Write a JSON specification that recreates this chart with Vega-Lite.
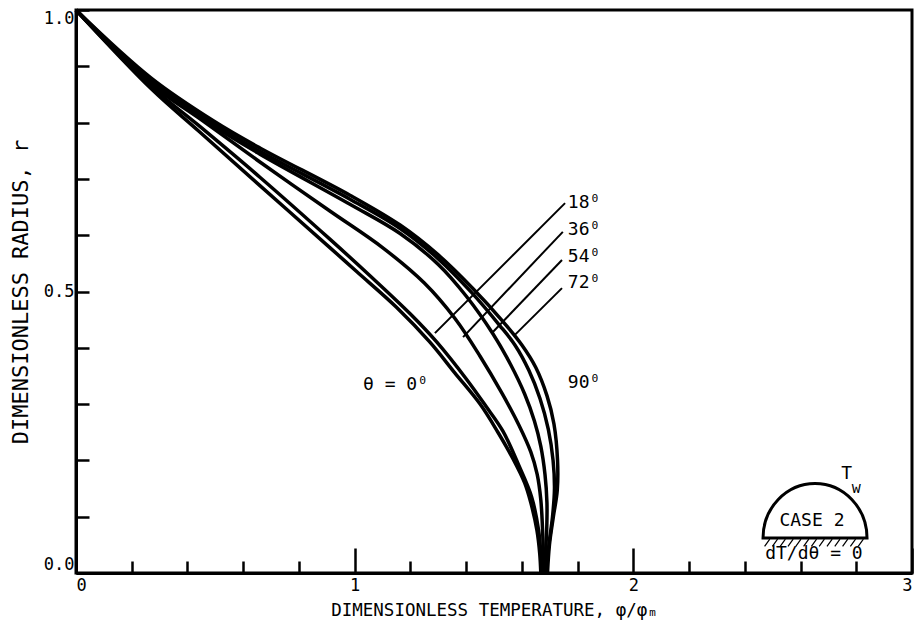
{
  "$schema": "https://vega.github.io/schema/vega-lite/v6.json",
  "width": 836,
  "height": 563,
  "autosize": "none",
  "padding": {"left": 76, "top": 10, "right": 3, "bottom": 66},
  "background": "white",
  "config": {
    "view": {"stroke": "black", "strokeWidth": 3},
    "font": "DejaVu Sans Mono",
    "axis": {"grid": false, "domainColor": "black", "domainWidth": 3, "tickColor": "black", "tickWidth": 2.5, "labelColor": "black", "titleColor": "black", "titleFontWeight": "normal", "labelFont": "DejaVu Sans Mono", "titleFont": "DejaVu Sans Mono"}
  },
  "datasets": {
    "curves": [
      {"theta": "0", "i": 0, "x": 0, "y": 1},
      {"theta": "0", "i": 1, "x": 0.27, "y": 0.86},
      {"theta": "0", "i": 2, "x": 0.44, "y": 0.785},
      {"theta": "0", "i": 3, "x": 0.66, "y": 0.688},
      {"theta": "0", "i": 4, "x": 0.911, "y": 0.578},
      {"theta": "0", "i": 5, "x": 1.008, "y": 0.535},
      {"theta": "0", "i": 6, "x": 1.15, "y": 0.472},
      {"theta": "0", "i": 7, "x": 1.27, "y": 0.41},
      {"theta": "0", "i": 8, "x": 1.36, "y": 0.355},
      {"theta": "0", "i": 9, "x": 1.45, "y": 0.3},
      {"theta": "0", "i": 10, "x": 1.514, "y": 0.25},
      {"theta": "0", "i": 11, "x": 1.568, "y": 0.203},
      {"theta": "0", "i": 12, "x": 1.61, "y": 0.16},
      {"theta": "0", "i": 13, "x": 1.632, "y": 0.125},
      {"theta": "0", "i": 14, "x": 1.654, "y": 0.076},
      {"theta": "0", "i": 15, "x": 1.664, "y": 0.035},
      {"theta": "0", "i": 16, "x": 1.668, "y": 0},
      {"theta": "18", "i": 0, "x": 0, "y": 1},
      {"theta": "18", "i": 1, "x": 0.27, "y": 0.864},
      {"theta": "18", "i": 2, "x": 0.44, "y": 0.795},
      {"theta": "18", "i": 3, "x": 0.66, "y": 0.703},
      {"theta": "18", "i": 4, "x": 0.911, "y": 0.593},
      {"theta": "18", "i": 5, "x": 1.055, "y": 0.528},
      {"theta": "18", "i": 6, "x": 1.2, "y": 0.46},
      {"theta": "18", "i": 7, "x": 1.295, "y": 0.41},
      {"theta": "18", "i": 8, "x": 1.4, "y": 0.345},
      {"theta": "18", "i": 9, "x": 1.47, "y": 0.297},
      {"theta": "18", "i": 10, "x": 1.532, "y": 0.252},
      {"theta": "18", "i": 11, "x": 1.59, "y": 0.19},
      {"theta": "18", "i": 12, "x": 1.635, "y": 0.135},
      {"theta": "18", "i": 13, "x": 1.66, "y": 0.076},
      {"theta": "18", "i": 14, "x": 1.668, "y": 0.035},
      {"theta": "18", "i": 15, "x": 1.672, "y": 0},
      {"theta": "36", "i": 0, "x": 0, "y": 1},
      {"theta": "36", "i": 1, "x": 0.27, "y": 0.868},
      {"theta": "36", "i": 2, "x": 0.45, "y": 0.805},
      {"theta": "36", "i": 3, "x": 0.66, "y": 0.73},
      {"theta": "36", "i": 4, "x": 0.911, "y": 0.643},
      {"theta": "36", "i": 5, "x": 1.1, "y": 0.578},
      {"theta": "36", "i": 6, "x": 1.25, "y": 0.515},
      {"theta": "36", "i": 7, "x": 1.36, "y": 0.452},
      {"theta": "36", "i": 8, "x": 1.45, "y": 0.385},
      {"theta": "36", "i": 9, "x": 1.53, "y": 0.318},
      {"theta": "36", "i": 10, "x": 1.59, "y": 0.262},
      {"theta": "36", "i": 11, "x": 1.632, "y": 0.215},
      {"theta": "36", "i": 12, "x": 1.655, "y": 0.175},
      {"theta": "36", "i": 13, "x": 1.668, "y": 0.13},
      {"theta": "36", "i": 14, "x": 1.674, "y": 0.08},
      {"theta": "36", "i": 15, "x": 1.677, "y": 0.035},
      {"theta": "36", "i": 16, "x": 1.678, "y": 0},
      {"theta": "54", "i": 0, "x": 0, "y": 1},
      {"theta": "54", "i": 1, "x": 0.27, "y": 0.872},
      {"theta": "54", "i": 2, "x": 0.5, "y": 0.792},
      {"theta": "54", "i": 3, "x": 0.66, "y": 0.744},
      {"theta": "54", "i": 4, "x": 0.983, "y": 0.655},
      {"theta": "54", "i": 5, "x": 1.163, "y": 0.603},
      {"theta": "54", "i": 6, "x": 1.3, "y": 0.548},
      {"theta": "54", "i": 7, "x": 1.4, "y": 0.492},
      {"theta": "54", "i": 8, "x": 1.496, "y": 0.425},
      {"theta": "54", "i": 9, "x": 1.56, "y": 0.37},
      {"theta": "54", "i": 10, "x": 1.61, "y": 0.318},
      {"theta": "54", "i": 11, "x": 1.645, "y": 0.27},
      {"theta": "54", "i": 12, "x": 1.668, "y": 0.225},
      {"theta": "54", "i": 13, "x": 1.683, "y": 0.175},
      {"theta": "54", "i": 14, "x": 1.69, "y": 0.125},
      {"theta": "54", "i": 15, "x": 1.689, "y": 0.075},
      {"theta": "54", "i": 16, "x": 1.685, "y": 0.035},
      {"theta": "54", "i": 17, "x": 1.683, "y": 0},
      {"theta": "72", "i": 0, "x": 0, "y": 1},
      {"theta": "72", "i": 1, "x": 0.27, "y": 0.875},
      {"theta": "72", "i": 2, "x": 0.5, "y": 0.796},
      {"theta": "72", "i": 3, "x": 0.66, "y": 0.749},
      {"theta": "72", "i": 4, "x": 0.983, "y": 0.664},
      {"theta": "72", "i": 5, "x": 1.163, "y": 0.612},
      {"theta": "72", "i": 6, "x": 1.3, "y": 0.558},
      {"theta": "72", "i": 7, "x": 1.42, "y": 0.498},
      {"theta": "72", "i": 8, "x": 1.52, "y": 0.44},
      {"theta": "72", "i": 9, "x": 1.575, "y": 0.405},
      {"theta": "72", "i": 10, "x": 1.625, "y": 0.36},
      {"theta": "72", "i": 11, "x": 1.665, "y": 0.31},
      {"theta": "72", "i": 12, "x": 1.695, "y": 0.255},
      {"theta": "72", "i": 13, "x": 1.712, "y": 0.2},
      {"theta": "72", "i": 14, "x": 1.717, "y": 0.15},
      {"theta": "72", "i": 15, "x": 1.71, "y": 0.1},
      {"theta": "72", "i": 16, "x": 1.697, "y": 0.05},
      {"theta": "72", "i": 17, "x": 1.688, "y": 0},
      {"theta": "90", "i": 0, "x": 0, "y": 1},
      {"theta": "90", "i": 1, "x": 0.27, "y": 0.879},
      {"theta": "90", "i": 2, "x": 0.5, "y": 0.801},
      {"theta": "90", "i": 3, "x": 0.66, "y": 0.755},
      {"theta": "90", "i": 4, "x": 0.983, "y": 0.671},
      {"theta": "90", "i": 5, "x": 1.163, "y": 0.618},
      {"theta": "90", "i": 6, "x": 1.3, "y": 0.565},
      {"theta": "90", "i": 7, "x": 1.425, "y": 0.505},
      {"theta": "90", "i": 8, "x": 1.53, "y": 0.448},
      {"theta": "90", "i": 9, "x": 1.6, "y": 0.405},
      {"theta": "90", "i": 10, "x": 1.65, "y": 0.365},
      {"theta": "90", "i": 11, "x": 1.69, "y": 0.315},
      {"theta": "90", "i": 12, "x": 1.715, "y": 0.265},
      {"theta": "90", "i": 13, "x": 1.728, "y": 0.2},
      {"theta": "90", "i": 14, "x": 1.727, "y": 0.147},
      {"theta": "90", "i": 15, "x": 1.713, "y": 0.1},
      {"theta": "90", "i": 16, "x": 1.699, "y": 0.05},
      {"theta": "90", "i": 17, "x": 1.692, "y": 0}
    ],
    "leaders": [
      {"theta": "18", "i": 0, "x": 1.288, "y": 0.426},
      {"theta": "18", "i": 1, "x": 1.755, "y": 0.657},
      {"theta": "36", "i": 0, "x": 1.389, "y": 0.419},
      {"theta": "36", "i": 1, "x": 1.747, "y": 0.606},
      {"theta": "54", "i": 0, "x": 1.496, "y": 0.428},
      {"theta": "54", "i": 1, "x": 1.744, "y": 0.556},
      {"theta": "72", "i": 0, "x": 1.575, "y": 0.423},
      {"theta": "72", "i": 1, "x": 1.744, "y": 0.506}
    ],
    "labels": [
      {"text": "18⁰", "x": 1.765, "y": 0.657},
      {"text": "36⁰", "x": 1.765, "y": 0.61},
      {"text": "54⁰", "x": 1.765, "y": 0.562},
      {"text": "72⁰", "x": 1.765, "y": 0.515},
      {"text": "90⁰", "x": 1.765, "y": 0.337},
      {"text": "θ = 0⁰", "x": 1.03, "y": 0.334}
    ],
    "icon": [{"x": 2.652, "y": 0.062}],
    "insetBig": [
      {"text": "CASE 2", "x": 2.641, "y": 0.092},
      {"text": "T", "x": 2.766, "y": 0.176},
      {"text": "dT/dθ = 0", "x": 2.648, "y": 0.034}
    ],
    "insetSmall": [
      {"text": "w", "x": 2.8, "y": 0.151}
    ]
  },
  "layer": [
    {
      "data": {"name": "curves"},
      "mark": {"type": "line", "color": "black", "strokeWidth": 3.5, "interpolate": "catmull-rom"},
      "encoding": {
        "x": {
          "field": "x", "type": "quantitative",
          "scale": {"domain": [0, 3], "nice": false, "zero": false},
          "axis": {
            "values": [0, 0.2, 0.4, 0.6, 0.8, 1, 1.2, 1.4, 1.6, 1.8, 2, 2.2, 2.4, 2.6, 2.8, 3],
            "title": "DIMENSIONLESS TEMPERATURE, φ/φₘ",
            "tickSize": {"condition": {"test": "datum.value % 1 === 0", "value": -25}, "value": -12},
            "labelExpr": "datum.value % 1 === 0 ? format(datum.value, 'd') : ''",
            "labelPadding": 29,
            "labelFontSize": 17,
            "labelFlush": true,
            "titleFontSize": 17.5,
            "titlePadding": 8
          }
        },
        "y": {
          "field": "y", "type": "quantitative",
          "scale": {"domain": [0, 1], "nice": false, "zero": false},
          "axis": {
            "values": [0, 0.1, 0.2, 0.3, 0.4, 0.5, 0.6, 0.7, 0.8, 0.9, 1],
            "title": "DIMENSIONLESS RADIUS, r",
            "tickSize": -13,
            "labelExpr": "(datum.value === 0 || datum.value === 0.5 || datum.value === 1) ? format(datum.value, '.1f') : ''",
            "labelPadding": 15,
            "labelFontSize": 17,
            "labelFlush": true,
            "titleFontSize": 22,
            "titlePadding": 11
          }
        },
        "detail": {"field": "theta"},
        "order": {"field": "i", "type": "quantitative"}
      }
    },
    {
      "data": {"name": "leaders"},
      "mark": {"type": "line", "color": "black", "strokeWidth": 2},
      "encoding": {
        "x": {"field": "x", "type": "quantitative"},
        "y": {"field": "y", "type": "quantitative"},
        "detail": {"field": "theta"},
        "order": {"field": "i", "type": "quantitative"}
      }
    },
    {
      "data": {"name": "labels"},
      "mark": {"type": "text", "align": "left", "baseline": "middle", "fontSize": 18, "color": "black"},
      "encoding": {
        "x": {"field": "x", "type": "quantitative"},
        "y": {"field": "y", "type": "quantitative"},
        "text": {"field": "text"}
      }
    },
    {
      "data": {"name": "icon"},
      "mark": {"type": "point", "shape": "M -1 0 C -1 -0.58 -0.5523 -1.05 0 -1.05 C 0.5523 -1.05 1 -0.58 1 0 Z", "size": 10816, "filled": false, "fill": "white", "fillOpacity": 1, "stroke": "black", "strokeWidth": 3, "opacity": 1},
      "encoding": {
        "x": {"field": "x", "type": "quantitative"},
        "y": {"field": "y", "type": "quantitative"}
      }
    },
    {
      "data": {"name": "icon"},
      "mark": {"type": "point", "shape": "M -0.97 0.16 L -0.87 0.02 M -0.82 0.16 L -0.72 0.02 M -0.67 0.16 L -0.57 0.02 M -0.52 0.16 L -0.42 0.02 M -0.37 0.16 L -0.27 0.02 M -0.22 0.16 L -0.12 0.02 M -0.07 0.16 L 0.03 0.02 M 0.08 0.16 L 0.18 0.02 M 0.23 0.16 L 0.33 0.02 M 0.38 0.16 L 0.48 0.02 M 0.53 0.16 L 0.63 0.02 M 0.68 0.16 L 0.78 0.02 M 0.83 0.16 L 0.93 0.02", "size": 10816, "filled": false, "stroke": "black", "strokeWidth": 1.2, "opacity": 1},
      "encoding": {
        "x": {"field": "x", "type": "quantitative"},
        "y": {"field": "y", "type": "quantitative"}
      }
    },
    {
      "data": {"name": "insetBig"},
      "mark": {"type": "text", "align": "center", "baseline": "middle", "fontSize": 18, "color": "black"},
      "encoding": {
        "x": {"field": "x", "type": "quantitative"},
        "y": {"field": "y", "type": "quantitative"},
        "text": {"field": "text"}
      }
    },
    {
      "data": {"name": "insetSmall"},
      "mark": {"type": "text", "align": "center", "baseline": "middle", "fontSize": 15, "color": "black"},
      "encoding": {
        "x": {"field": "x", "type": "quantitative"},
        "y": {"field": "y", "type": "quantitative"},
        "text": {"field": "text"}
      }
    }
  ]
}
